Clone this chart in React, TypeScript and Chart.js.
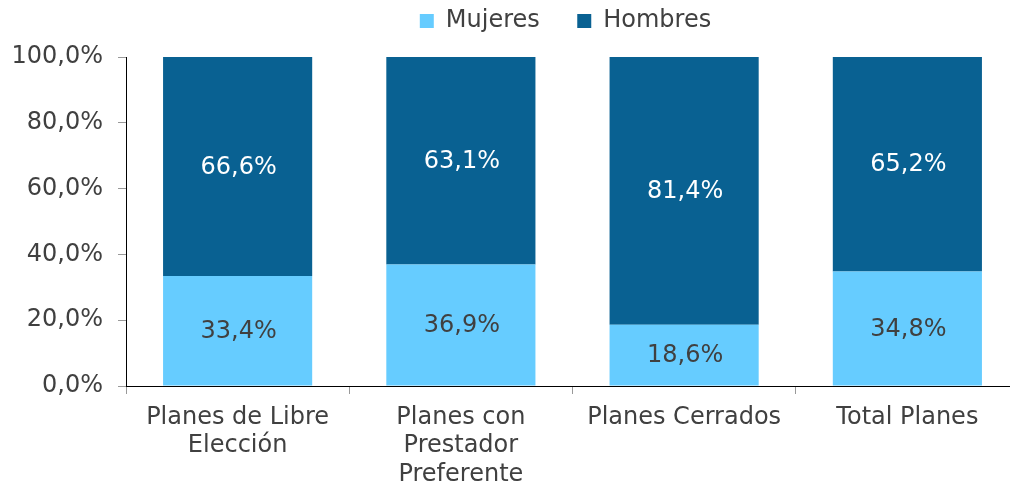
import React, { useEffect, useRef } from "react";
import { Chart, registerables } from "chart.js";

Chart.register(...registerables);

const categories: string[][] = [
  ["Planes de Libre", "Elección"],
  ["Planes con", "Prestador", "Preferente"],
  ["Planes Cerrados"],
  ["Total Planes"],
];
const seriesNames = ["Mujeres", "Hombres"];
const mujeres = [33.4, 36.9, 18.6, 34.8];
const hombres = [66.6, 63.1, 81.4, 65.2];
const yMin = 0;
const yMax = 100;
const yStep = 20;

const COLORS = ["#66CCFF", "#096192"];
const LABEL_COLORS = ["#404040", "#FFFFFF"];
const FONT = '"DejaVu Sans", Verdana, sans-serif';
const TEXT = "#404040";

const fmt = (v: number) => v.toFixed(1).replace(".", ",") + "%";

const barLabels = {
  id: "barLabels",
  afterDatasetsDraw(chart: any) {
    const ctx = chart.ctx;
    ctx.save();
    ctx.font = `24px ${FONT}`;
    ctx.textAlign = "center";
    ctx.textBaseline = "middle";
    chart.data.datasets.forEach((ds: any, di: number) => {
      const meta = chart.getDatasetMeta(di);
      meta.data.forEach((el: any, i: number) => {
        const { x, y, base } = el.getProps(["x", "y", "base"], true);
        ctx.fillStyle = LABEL_COLORS[di];
        ctx.fillText(fmt(ds.data[i]), x + 1, (y + base) / 2 + 1);
      });
    });
    ctx.restore();
  },
};

const legendTweak = {
  id: "legendTweak",
  beforeLayout(chart: any) {
    const lg = chart.legend;
    if (lg && !lg._patched) {
      const orig = lg.fit.bind(lg);
      lg.fit = function () {
        orig();
        this.height = 57;
      };
      lg._patched = true;
    }
  },
  afterLayout(chart: any) {
    const lg = chart.legend;
    if (!lg) return;
    lg.top = -28.5;
    lg.bottom = 56;
    lg.height = lg.bottom - lg.top;
    lg.left = 126;
    lg.right = 1005;
    lg.width = lg.right - lg.left;
  },
};

export default function App() {
  const ref = useRef<HTMLCanvasElement | null>(null);

  useEffect(() => {
    if (!ref.current) return;
    const chart = new Chart(ref.current, {
      type: "bar",
      data: {
        labels: categories,
        datasets: [
          {
            label: seriesNames[0],
            data: mujeres,
            backgroundColor: COLORS[0],
            borderWidth: 0,
            categoryPercentage: 1,
            barPercentage: 0.668,
          },
          {
            label: seriesNames[1],
            data: hombres,
            backgroundColor: COLORS[1],
            borderWidth: 0,
            categoryPercentage: 1,
            barPercentage: 0.668,
          },
        ],
      },
      options: {
        responsive: false,
        animation: false,
        events: [],
        layout: { padding: 0 },
        plugins: {
          tooltip: { enabled: false },
          legend: {
            display: true,
            position: "top",
            align: "center",
            labels: {
              boxWidth: 14,
              boxHeight: 14,
              padding: 37.5,
              color: TEXT,
              font: { family: FONT, size: 24 },
            },
          },
        },
        scales: {
          x: {
            stacked: true,
            afterFit: (s: any) => {
              s.height = 105;
            },
            grid: {
              display: true,
              drawOnChartArea: false,
              drawTicks: true,
              tickLength: 8,
              color: "#999999",
              offset: true,
            },
            border: { display: true, color: "#000000", width: 1 },
            ticks: {
              color: TEXT,
              padding: 9,
              maxRotation: 0,
              autoSkip: false,
              font: { family: FONT, size: 24, lineHeight: 1.2 },
            },
          },
          y: {
            stacked: true,
            min: yMin,
            max: yMax,
            afterFit: (s: any) => {
              s.width = 126;
            },
            grid: {
              display: true,
              drawOnChartArea: false,
              drawTicks: true,
              tickLength: 8,
              color: "#999999",
            },
            border: { display: true, color: "#000000", width: 1 },
            ticks: {
              stepSize: yStep,
              color: TEXT,
              padding: 15,
              font: { family: FONT, size: 24 },
              callback: (v: any) => fmt(Number(v)),
            },
          },
        },
      },
      plugins: [barLabels, legendTweak],
    } as any);
    return () => chart.destroy();
  }, []);

  return (
    <div
      style={{
        position: "fixed",
        left: 0,
        top: 0,
        width: 1010,
        height: 491,
        overflow: "hidden",
        background: "#fff",
      }}
    >
      <canvas ref={ref} width={1019} height={491} style={{ display: "block" }} />
    </div>
  );
}
